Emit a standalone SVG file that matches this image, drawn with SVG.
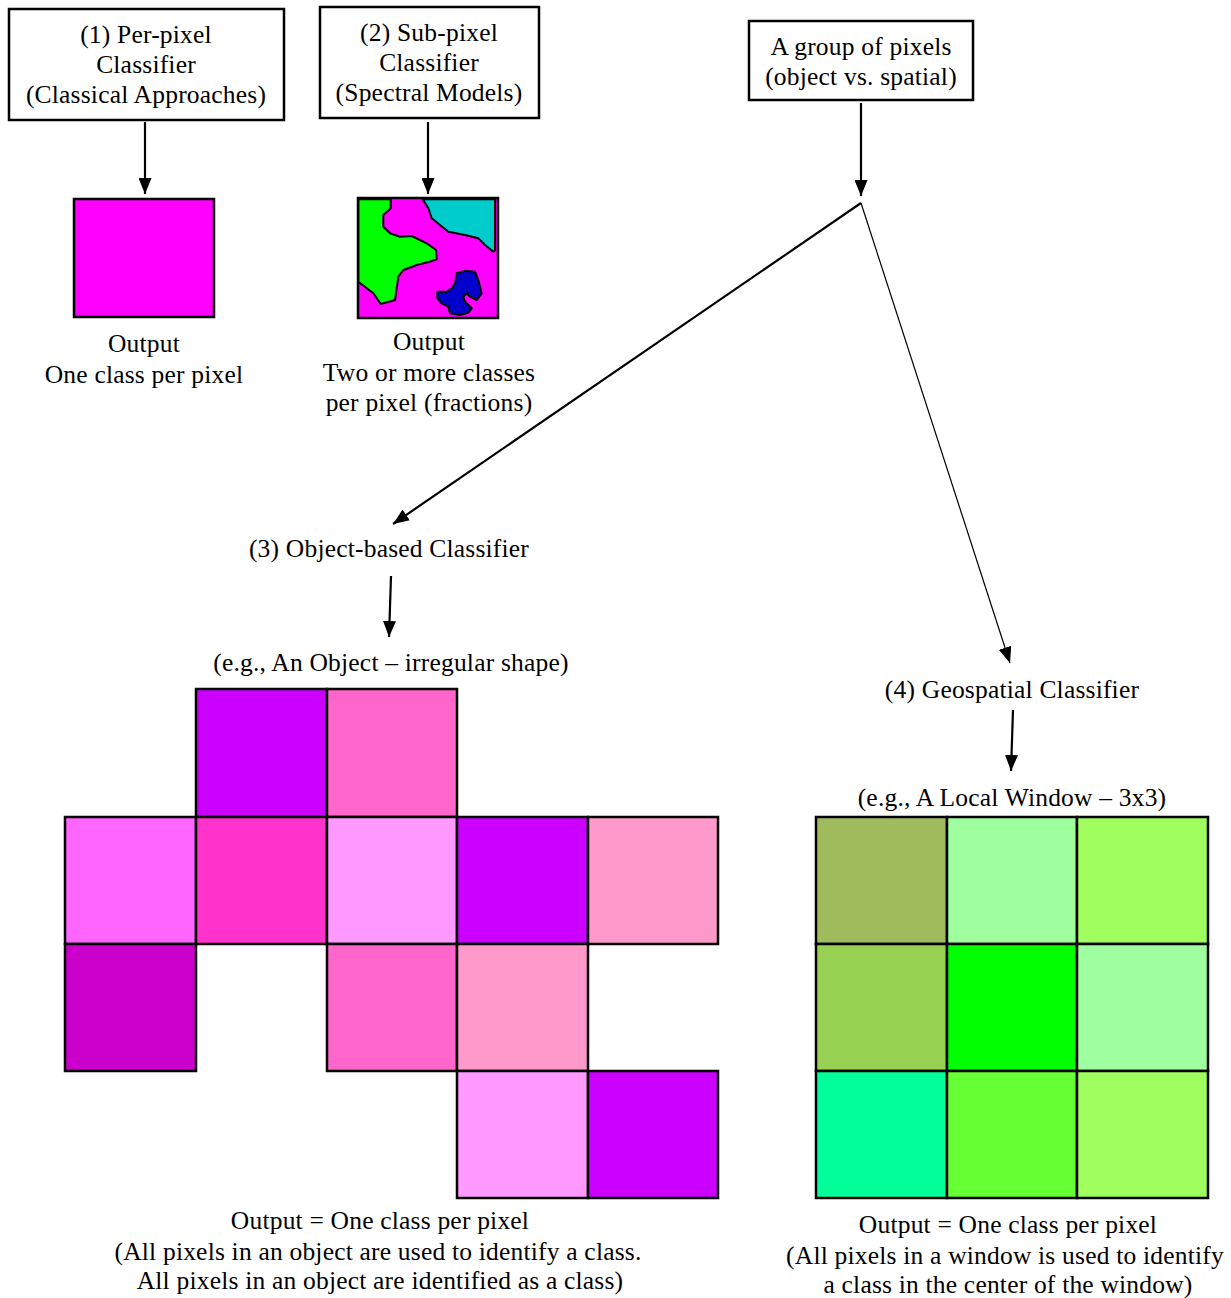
<svg xmlns="http://www.w3.org/2000/svg" width="1231" height="1298" viewBox="0 0 1231 1298">
<defs>
<marker id="ah" viewBox="0 0 16 13" refX="16" refY="6.5" markerWidth="16" markerHeight="13" markerUnits="userSpaceOnUse" orient="auto">
<path d="M0,0 L16,6.5 L0,13 z" fill="#000"/>
</marker>
</defs>
<style>
text{font-family:"Liberation Serif","Times New Roman",serif;font-size:25.5px;letter-spacing:0.2px;fill:#000;text-anchor:middle}
.box{fill:#fff;stroke:#000;stroke-width:2.5}
.cell{stroke:#000;stroke-width:2.5}
.arr{stroke:#000;stroke-width:2.2;fill:none;marker-end:url(#ah)}
.thin{stroke:#000;stroke-width:1.2;fill:none;marker-end:url(#ah)}
.reg{stroke:#000;stroke-width:2;stroke-linejoin:round}
</style>
<rect width="1231" height="1298" fill="#fff"/>

<g id="connectors">
<line class="arr" x1="145" y1="122" x2="145" y2="194"/>
<line class="arr" x1="428" y1="122" x2="428" y2="194"/>
<line class="arr" x1="861" y1="103" x2="861" y2="196"/>
<line class="arr" x1="861" y1="203" x2="393" y2="524"/>
<line class="thin" x1="861" y1="203" x2="1010" y2="663"/>
<line class="arr" x1="391" y1="576" x2="389" y2="637"/>
<line class="arr" x1="1013" y1="710" x2="1011" y2="771"/>
</g>

<g id="node-perpixel">
<rect class="box" x="9" y="9" width="275" height="111"/>
<text x="146" y="43">(1) Per-pixel</text>
<text x="146" y="73">Classifier</text>
<text x="146" y="103">(Classical Approaches)</text>
</g>

<g id="node-subpixel">
<rect class="box" x="320" y="7" width="219" height="111"/>
<text x="429" y="41">(2) Sub-pixel</text>
<text x="429" y="71">Classifier</text>
<text x="429" y="101">(Spectral Models)</text>
</g>

<g id="node-group">
<rect class="box" x="749" y="21" width="224" height="79"/>
<text x="861" y="55">A group of pixels</text>
<text x="861" y="85">(object vs. spatial)</text>
</g>

<g id="node-output1">
<rect x="74" y="199" width="140" height="118" fill="#FF00FF" stroke="#000" stroke-width="2.5"/>
<text x="144" y="352">Output</text>
<text x="144" y="383">One class per pixel</text>
</g>

<g id="node-output2">
<rect x="358" y="198" width="140" height="120" fill="#FF00FF"/>
<polygon class="reg" fill="#00FF00" points="358.3,199.3 390.7,199.3 390.7,208.3 383.3,215 383.3,226.7 390,233.3 400,236.7 411.7,236 426.7,243.3 436,250 436.7,259.3 429.3,261.7 416.7,265 403.3,270 398.3,276.7 395,300 380.7,304 373.3,293.3 358.3,281.7"/>
<polygon class="reg" fill="#00CCCC" points="422.7,199.3 428.3,208.3 431.7,218.3 448.3,231.7 465,235 478.3,238.3 485,245 493.3,251.7 495,250 495,199.3"/>
<polygon class="reg" fill="#0000CC" points="456.7,273.3 465,270.7 475,271.7 478.3,280 481.7,293.3 476.7,300 470,296.7 466.7,293.3 463.3,296.7 465,301.7 471.7,308.3 468.3,312.7 460,315 450,313.3 448.3,306.7 441.7,303.3 437.3,298.3 437.3,291.7 446.7,291.7 451.7,288.3 455,283.3"/>
<rect x="358" y="198" width="140" height="120" fill="none" stroke="#000" stroke-width="2.5"/>
<text x="429" y="350">Output</text>
<text x="429" y="381">Two or more classes</text>
<text x="429" y="411">per pixel (fractions)</text>
</g>

<g id="node-object">
<text x="389" y="557">(3) Object-based Classifier</text>
<text x="391" y="671">(e.g., An Object – irregular shape)</text>
<rect class="cell" x="196" y="689" width="131" height="128" fill="#CC00FF"/>
<rect class="cell" x="327" y="689" width="130" height="128" fill="#FF66CC"/>
<rect class="cell" x="65" y="817" width="131" height="127" fill="#FF66FF"/>
<rect class="cell" x="196" y="817" width="131" height="127" fill="#FF33CC"/>
<rect class="cell" x="327" y="817" width="130" height="127" fill="#FF99FF"/>
<rect class="cell" x="457" y="817" width="131" height="127" fill="#CC00FF"/>
<rect class="cell" x="588" y="817" width="130" height="127" fill="#FF99CC"/>
<rect class="cell" x="65" y="944" width="131" height="127" fill="#CC00CC"/>
<rect class="cell" x="327" y="944" width="130" height="127" fill="#FF66CC"/>
<rect class="cell" x="457" y="944" width="131" height="127" fill="#FF99CC"/>
<rect class="cell" x="457" y="1071" width="131" height="127" fill="#FF99FF"/>
<rect class="cell" x="588" y="1071" width="130" height="127" fill="#CC00FF"/>
<text x="380" y="1229">Output = One class per pixel</text>
<text x="378" y="1260">(All pixels in an object are used to identify a class.</text>
<text x="380" y="1289">All pixels in an object are identified as a class)</text>
</g>

<g id="node-geospatial">
<text x="1012" y="698">(4) Geospatial Classifier</text>
<text x="1012" y="806">(e.g., A Local Window – 3x3)</text>
<rect class="cell" x="816" y="817" width="131" height="127" fill="#9FBB5B"/>
<rect class="cell" x="947" y="817" width="130" height="127" fill="#9FFF9F"/>
<rect class="cell" x="1077" y="817" width="131" height="127" fill="#9FFF5F"/>
<rect class="cell" x="816" y="944" width="131" height="127" fill="#96D152"/>
<rect class="cell" x="947" y="944" width="130" height="127" fill="#00FF00"/>
<rect class="cell" x="1077" y="944" width="131" height="127" fill="#9FFF9F"/>
<rect class="cell" x="816" y="1071" width="131" height="127" fill="#00FF99"/>
<rect class="cell" x="947" y="1071" width="130" height="127" fill="#66FF33"/>
<rect class="cell" x="1077" y="1071" width="131" height="127" fill="#9FFF5F"/>
<text x="1008" y="1233">Output = One class per pixel</text>
<text x="1005" y="1264">(All pixels in a window is used to identify</text>
<text x="1008" y="1293">a class in the center of the window)</text>
</g>
</svg>
